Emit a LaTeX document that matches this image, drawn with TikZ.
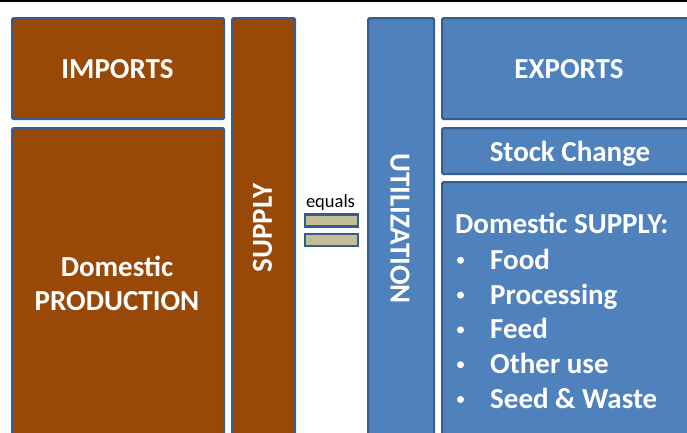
\documentclass[tikz,border=0pt]{standalone}
\usepackage{fontspec}
\setmainfont{Carlito}
\definecolor{brownfill}{HTML}{984807}
\definecolor{bluefill}{HTML}{4F81BD}
\definecolor{edgeblue}{HTML}{385D8A}
\definecolor{tanfill}{HTML}{C4BD97}
\tikzset{
  box/.style={draw=edgeblue, line width=2.2pt, rounded corners=1.5pt, inner sep=0pt, anchor=north west},
  brownbox/.style={box, fill=brownfill},
  bluebox/.style={box, fill=bluefill},
  bar/.style={draw=edgeblue, line width=2.6pt, fill=tanfill, inner sep=0pt, anchor=north west, minimum width=53pt, minimum height=12pt},
  big/.style={text=white, font=\fontsize{29}{31}\selectfont\bfseries, inner sep=0pt},
  dot/.style={circle, fill=white, inner sep=0pt, minimum size=7pt},
}
\begin{document}
\begin{tikzpicture}[x=1pt,y=-1pt]
\useasboundingbox (0,0) rectangle (687,432);
\clip (0,0) rectangle (687,432);
\fill[white] (0,0) rectangle (687,432);
\draw[black, line width=1.6pt] (0,0.8) -- (687,0.8);
% left
\node[brownbox, minimum width=212pt, minimum height=101pt] (imports) at (11,17) {};
\node[big] (imptext) at (117.5,69) {IMPORTS};
\node[brownbox, minimum width=212pt, minimum height=330pt] (prod) at (11,127) {};
\node[big, anchor=base] (prodtext1) at (117,276) {Domestic};
\node[big, anchor=base] (prodtext2) at (117,310) {PRODUCTION};
\node[brownbox, minimum width=63pt, minimum height=440pt] (supply) at (231,17) {};
\node[big, rotate=90] (supplytext) at (262.5,228) {SUPPLY};
% equals
\node[font=\fontsize{18.5}{19}\selectfont, inner sep=0pt, anchor=base] (eqtext) at (330.5,207) {equals};
\node[bar] (bar1) at (303.5,213) {};
\node[bar] (bar2) at (303.5,232.5) {};
% right
\node[bluebox, minimum width=66pt, minimum height=440pt] (util) at (367,17) {};
\node[big, rotate=-90] (utiltext) at (400,228.5) {UTILIZATION};
\node[bluebox, minimum width=260pt, minimum height=101pt] (exports) at (441,17) {};
\node[big] (exptext) at (569,69) {EXPORTS};
\node[bluebox, minimum width=260pt, minimum height=46pt] (stock) at (441,127) {};
\node[big, anchor=base] (stocktext) at (570,161) {Stock Change};
\node[bluebox, minimum width=260pt, minimum height=270pt] (dom) at (441,181) {};
\node[big, anchor=base west] (domtitle) at (455,233) {Domestic SUPPLY:};
\foreach \t [count=\i] in {Food,Processing,Feed,Other use,Seed \& Waste}{
  \node[dot] (b\i) at (460.5,{234.5+34.8*\i-9}) {};
  \node[big, anchor=base west] (item\i) at (490,{234.5+34.8*\i}) {\t};
}
\end{tikzpicture}
\end{document}
